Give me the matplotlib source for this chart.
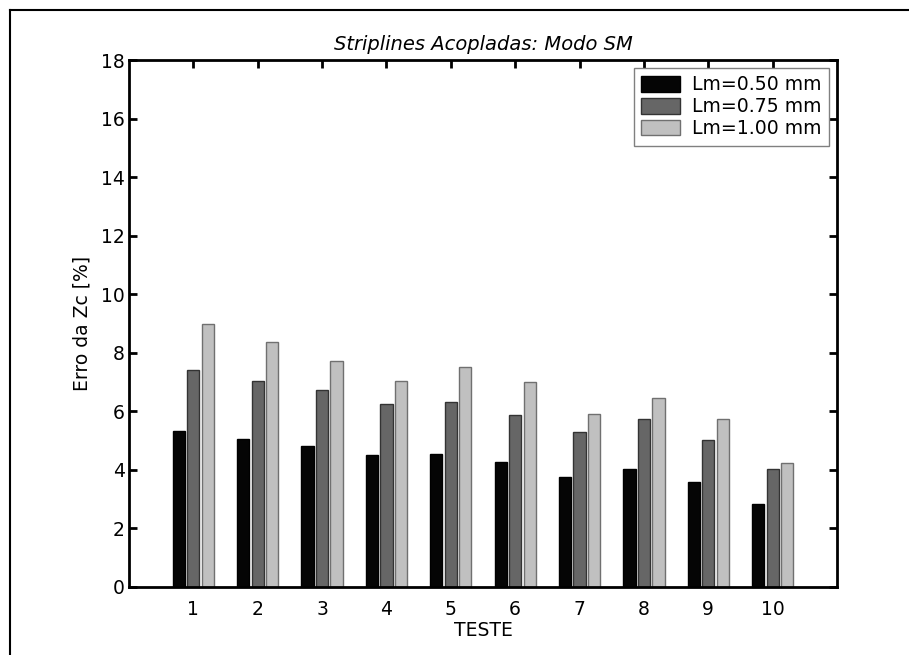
import matplotlib
matplotlib.use("Agg")
import matplotlib.pyplot as plt
import numpy as np
from matplotlib.lines import Line2D

plt.rcParams['font.family'] = ['DejaVu Sans']

testes = [1, 2, 3, 4, 5, 6, 7, 8, 9, 10]
lm050 = [5.33, 5.05, 4.80, 4.51, 4.54, 4.27, 3.77, 4.04, 3.60, 2.83]
lm075 = [7.41, 7.04, 6.73, 6.26, 6.32, 5.87, 5.28, 5.73, 5.01, 4.02]
lm100 = [8.98, 8.36, 7.71, 7.03, 7.50, 6.99, 5.92, 6.44, 5.73, 4.25]
labels = ['Lm=0.50 mm', 'Lm=0.75 mm', 'Lm=1.00 mm']
yticks = [0, 2, 4, 6, 8, 10, 12, 14, 16, 18]

fig = plt.figure(figsize=(9.09, 6.55), dpi=100)
W, H = 909, 655
ax = fig.add_axes([129 / W, 1 - 587 / H, (837 - 129) / W, (587 - 60) / H])

x = np.array(testes, dtype=float)
off = 0.225
wd = 0.19
series = [lm050, lm075, lm100]
faces = ['#050505', '#666666', '#c0c0c0']
edges = ['#000000', '#333333', '#707070']
for i, (vals, fc, ec, lab) in enumerate(zip(series, faces, edges, labels)):
    ax.bar(x + (i - 1) * off, vals, width=wd, color=fc, edgecolor=ec,
           linewidth=1.0, label=lab, zorder=2)

ax.set_xlim(0, 11)
ax.set_ylim(0, 18)
ax.set_xticks(testes)
ax.set_yticks(yticks)
ax.tick_params(direction='in', length=6, width=2, top=True, right=True,
               labelsize=13.5)
ax.tick_params(axis='x', pad=9.5)
ax.tick_params(axis='y', pad=3)
for s in ax.spines.values():
    s.set_linewidth(2)
    s.set_zorder(5)

ax.set_title('Striplines Acopladas: Modo SM', fontsize=14, style='italic', pad=7)
ax.set_xlabel('TESTE', fontsize=13.5, labelpad=1.5)
ax.set_ylabel('Erro da Zc [%]', fontsize=13.5, labelpad=7)

leg = ax.legend(loc='upper right', fontsize=13.6, frameon=True, fancybox=False,
                edgecolor='#808080', framealpha=1, borderpad=0.4,
                handlelength=2.06, handleheight=0.9, handletextpad=0.63,
                labelspacing=0.15, borderaxespad=0.42)
leg.get_frame().set_linewidth(1.0)

# figure border (left and top only visible)
fig.add_artist(Line2D([10 / W, 10 / W], [0, 1 - 10 / H], color='black', lw=1.5,
                      transform=fig.transFigure))
fig.add_artist(Line2D([10 / W, 1], [1 - 10 / H, 1 - 10 / H], color='black', lw=1.5,
                      transform=fig.transFigure))

fig.savefig('out.png', dpi=100)
